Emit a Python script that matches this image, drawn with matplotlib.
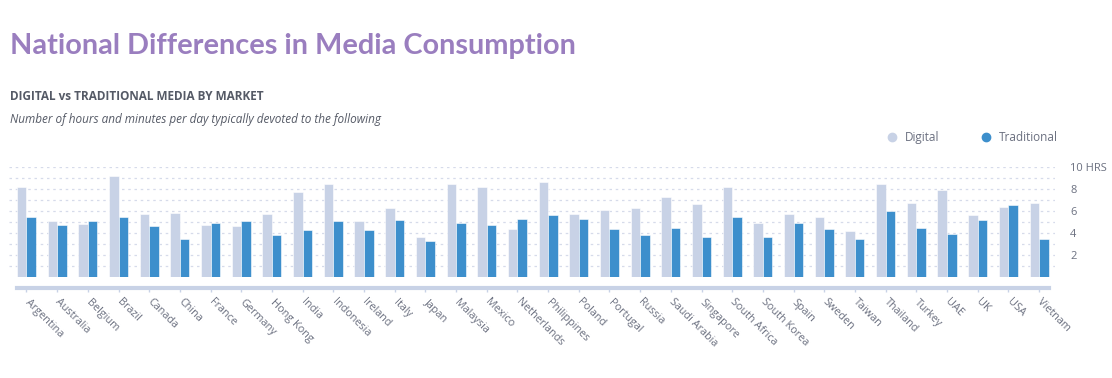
import matplotlib.pyplot as plt
import numpy as np

markets = ["Argentina", "Australia", "Belgium", "Brazil", "Canada", "China", "France",
           "Germany", "Hong Kong", "India", "Indonesia", "Ireland", "Italy", "Japan",
           "Malaysia", "Mexico", "Netherlands", "Philippines", "Poland", "Portugal",
           "Russia", "Saudi Arabia", "Singapore", "South Africa", "South Korea", "Spain",
           "Sweden", "Taiwan", "Thailand", "Turkey", "UAE", "UK", "USA", "Vietnam"]
digital = [8.15, 5.1, 4.85, 9.2, 5.75, 5.8, 4.75, 4.65, 5.75, 7.75, 8.5, 5.05, 6.25, 3.65,
           8.5, 8.2, 4.4, 8.6, 5.75, 6.05, 6.25, 7.3, 6.65, 8.15, 4.95, 5.75, 5.45, 4.2,
           8.5, 6.75, 7.95, 5.6, 6.35, 6.75]
traditional = [5.45, 4.7, 5.05, 5.5, 4.6, 3.45, 4.9, 5.1, 3.8, 4.25, 5.05, 4.25, 5.15, 3.3,
               4.95, 4.75, 5.25, 5.65, 5.25, 4.35, 3.8, 4.5, 3.6, 5.5, 3.65, 4.95, 4.4, 3.5,
               6.0, 4.5, 3.95, 5.2, 6.55, 3.5]
yticks = [2, 4, 6, 8, 10]
ytick_labels = ["2", "4", "6", "8", "10 HRS"]

plt.rcParams['font.family'] = ['Open Sans', 'DejaVu Sans']

DIG = "#c8d2e6"
TRAD = "#3d8fcc"
GREY = "#6b7080"

fig = plt.figure(figsize=(11.12, 3.78), dpi=100)
ax = fig.add_axes([9 / 1112, (378 - 277) / 378, 1046 / 1112, 110 / 378])

x = np.arange(len(markets))
w = 0.31
ax.bar(x - w / 2, digital, w, color=DIG, edgecolor="white", linewidth=0.4, zorder=3)
ax.bar(x + w / 2, traditional, w, color=TRAD, edgecolor="white", linewidth=0.4, zorder=3)

# dotted grid every hour
for h in range(1, 11):
    ax.axhline(h, color="#d6dbea", linestyle=(0, (2, 3)), linewidth=0.9, zorder=1)

ax.set_xlim(-0.57, 33.52)
ax.set_ylim(0, 10)

for s in ["top", "left", "right"]:
    ax.spines[s].set_visible(False)
ax.spines["bottom"].set_position(("outward", 8))
ax.spines["bottom"].set_color(DIG)
ax.spines["bottom"].set_linewidth(3)
ax.spines["bottom"].set_bounds(-w, len(markets) - 1 + w)

ax.set_xticks(x)
ax.set_xticklabels(markets, rotation=-45, ha="left", va="center",
                   rotation_mode="anchor", fontsize=7.8, color=GREY)
ax.tick_params(axis="x", length=3, width=1, color=DIG, pad=6)

ax.yaxis.tick_right()
ax.set_yticks(yticks)
ax.set_yticklabels(ytick_labels, fontsize=8, color=GREY)
ax.tick_params(axis="y", length=0, pad=11)

fig.text(10 / 1112, 1 - 46 / 378, "National Differences in Media Consumption",
         fontsize=20.8, fontweight="bold", color="#9a7ebf", va="center",
         family=["Lato", "DejaVu Sans"])
fig.text(10 / 1112, 1 - 97 / 378, "DIGITAL vs TRADITIONAL MEDIA BY MARKET",
         fontsize=8.5, fontweight="bold", color="#555a66", va="center")
fig.text(10 / 1112, 1 - 119 / 378,
         "Number of hours and minutes per day typically devoted to the following",
         fontsize=8.5, style="italic", color="#555a66", va="center")

# legend
ax.scatter([], [], s=36, color=DIG, label="Digital")
ax.scatter([], [], s=36, color=TRAD, label="Traditional")
ax.legend(loc="lower right", bbox_to_anchor=(1054 / 1046, 1.17), ncol=2, frameon=False,
          fontsize=8.5, labelcolor=GREY, handletextpad=0.1, columnspacing=3.0,
          borderaxespad=0)

fig.savefig("out.png", dpi=100)
